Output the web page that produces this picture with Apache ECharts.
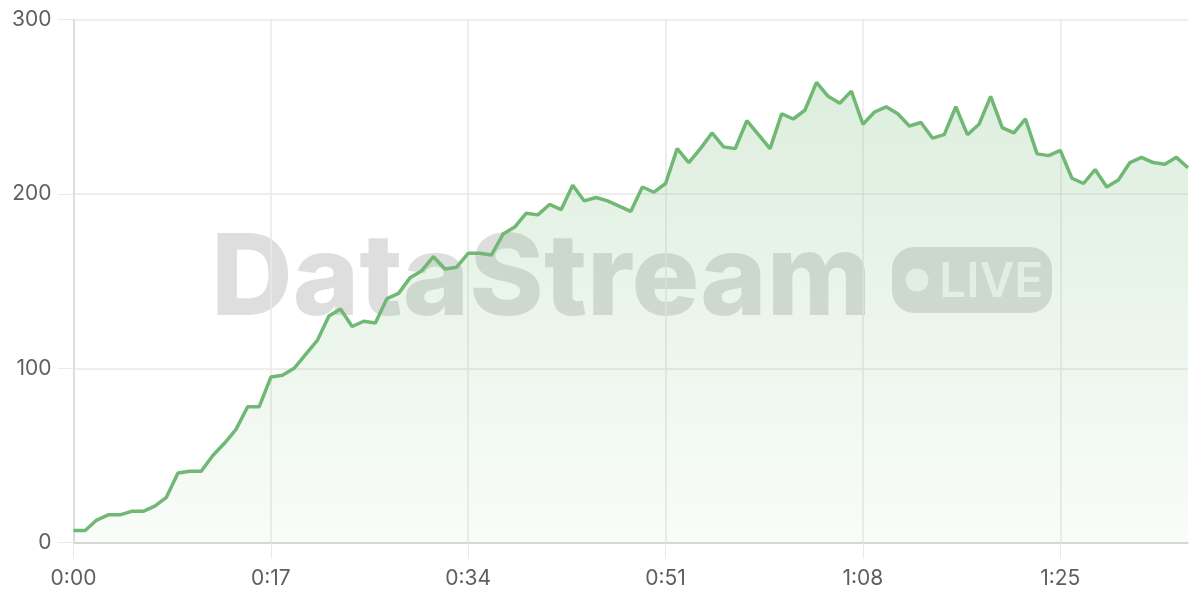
<!DOCTYPE html>
<html>
<head>
<meta charset="utf-8">
<script src="https://cdn.jsdelivr.net/npm/echarts@6/dist/echarts.min.js"></script>
<style>
html,body{margin:0;padding:0;background:#fff;}
#chart{width:1200px;height:600px;}
</style>
</head>
<body>
<div id="chart"></div>
<script>
const values = [7,7,13,16,16,18,18,21,26,40,41,41,50,57,65,78,78,95,96,100,
108,116,130,134,124,127,126,140,143,152,156,164,157,158,166,166,165,177,181,189,
188,194,191,205,196,198,196,193,190,204,201,206,226,218,226,235,227,226,242,234,
226,246,243,248,264,256,252,259,240,247,250,246,239,241,232,234,250,234,240,256,
238,235,243,223,222,225,209,206,214,204,208,218,221,218,217,221,215];
const seconds = values.map((v, i) => i);
const categories = seconds.map(s => Math.floor(s / 60) + ':' + String(s % 60).padStart(2, '0'));
const yTicks = [0, 100, 200, 300];
const watermarkText = 'DataStream';
const badgeText = 'LIVE';

const chart = echarts.init(document.getElementById('chart'), null, {renderer: 'canvas'});
const gridColor = '#e9e9e9';
const labelColor = '#5f5f5f';
const font = 'Inter, "Noto Sans", sans-serif';

chart.setOption({
  animation: false,
  backgroundColor: '#fff',
  grid: {left: 73.5, right: 12, top: 19.6, bottom: 57.3, containLabel: false},
  graphic: [
    {type: 'text', z: -10, left: 211, top: 225,
      style: {text: watermarkText, font: '800 113px Inter, "Noto Sans", sans-serif', fill: 'rgba(0,0,0,0.13)'}},
    {type: 'rect', z: -10, shape: {x: 892, y: 247, width: 160, height: 66, r: 22},
      style: {fill: 'rgba(0,0,0,0.13)'}},
    {type: 'circle', z: -9, shape: {cx: 917, cy: 280, r: 11.5},
      style: {fill: 'rgba(255,255,255,0.75)'}},
    {type: 'text', z: -9, left: 939, top: 259,
      style: {text: badgeText, font: '600 48px Inter, "Noto Sans", sans-serif', fill: 'rgba(255,255,255,0.75)'}}
  ],
  xAxis: {
    type: 'category',
    data: categories,
    boundaryGap: false,
    axisLine: {show: true, lineStyle: {color: '#cfcfcf', width: 1.5}},
    axisTick: {show: true, interval: 16, length: 16, lineStyle: {color: gridColor}},
    axisLabel: {interval: 16, color: labelColor, fontSize: 21, fontFamily: font, margin: 25},
    splitLine: {show: true, interval: 16, lineStyle: {color: gridColor, width: 1.5}}
  },
  yAxis: {
    type: 'value',
    min: yTicks[0], max: yTicks[yTicks.length - 1], interval: 100,
    axisLine: {show: true, lineStyle: {color: '#d9d9d9', width: 1.5}},
    axisTick: {show: true, length: 15, lineStyle: {color: gridColor}},
    axisLabel: {color: labelColor, fontSize: 21, fontFamily: font, margin: 22},
    splitLine: {show: true, lineStyle: {color: gridColor, width: 1.5}}
  },
  series: [{
    type: 'line',
    data: values,
    symbol: 'none',
    smooth: false,
    z: 5,
    lineStyle: {color: '#70b873', width: 3.5},
    itemStyle: {color: '#70b873'},
    areaStyle: {
      color: new echarts.graphic.LinearGradient(0, 0, 0, 1, [
        {offset: 0, color: 'rgba(112,184,115,0.34)'},
        {offset: 1, color: 'rgba(112,184,115,0.06)'}
      ])
    }
  }]
});
</script>
</body>
</html>
